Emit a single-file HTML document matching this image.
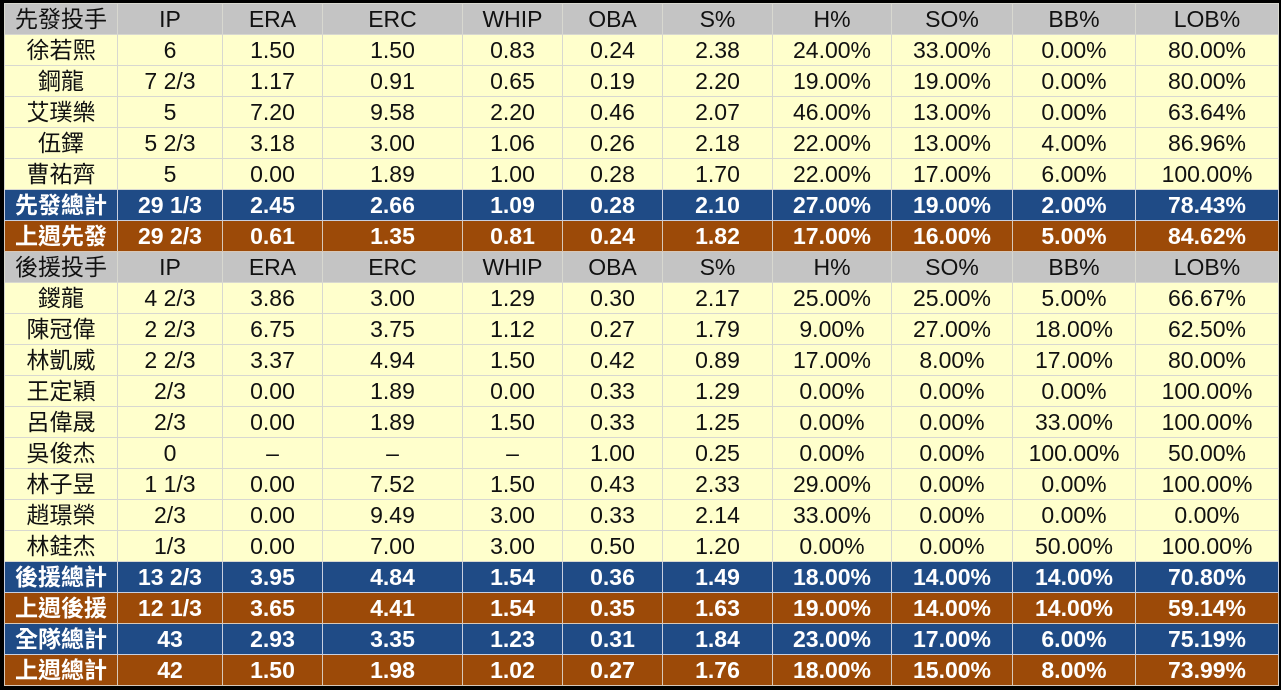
<!DOCTYPE html>
<html><head><meta charset="utf-8"><style>
html,body{margin:0;padding:0;background:#000;width:1281px;height:690px;overflow:hidden}
table{position:absolute;left:4px;top:3px;width:1274px;border-collapse:collapse;table-layout:fixed;font-family:"Liberation Sans","Noto Sans CJK TC",sans-serif;font-size:23px}
td{height:30px;padding:0;text-align:center;border:1px solid #d8d8d0;background:#ffffcc;color:#111;white-space:nowrap;overflow:hidden;line-height:30px}
tr.h td{background:#c4c4c4}
tr.b td{background:#1f4b86;color:#fff;font-weight:bold;border-color:#c8cfe0}
tr.o td{background:#9c4a08;color:#fff;font-weight:bold;border-color:#d8c8b8}
</style></head><body>
<table>
<colgroup><col style="width:113px"><col style="width:105px"><col style="width:100px"><col style="width:140px"><col style="width:100px"><col style="width:100px"><col style="width:110px"><col style="width:119px"><col style="width:121px"><col style="width:123px"><col style="width:143px"></colgroup>
<tr class="h"><td>先發投手</td><td>IP</td><td>ERA</td><td>ERC</td><td>WHIP</td><td>OBA</td><td>S%</td><td>H%</td><td>SO%</td><td>BB%</td><td>LOB%</td></tr>
<tr><td>徐若熙</td><td>6</td><td>1.50</td><td>1.50</td><td>0.83</td><td>0.24</td><td>2.38</td><td>24.00%</td><td>33.00%</td><td>0.00%</td><td>80.00%</td></tr>
<tr><td>鋼龍</td><td>7 2/3</td><td>1.17</td><td>0.91</td><td>0.65</td><td>0.19</td><td>2.20</td><td>19.00%</td><td>19.00%</td><td>0.00%</td><td>80.00%</td></tr>
<tr><td>艾璞樂</td><td>5</td><td>7.20</td><td>9.58</td><td>2.20</td><td>0.46</td><td>2.07</td><td>46.00%</td><td>13.00%</td><td>0.00%</td><td>63.64%</td></tr>
<tr><td>伍鐸</td><td>5 2/3</td><td>3.18</td><td>3.00</td><td>1.06</td><td>0.26</td><td>2.18</td><td>22.00%</td><td>13.00%</td><td>4.00%</td><td>86.96%</td></tr>
<tr><td>曹祐齊</td><td>5</td><td>0.00</td><td>1.89</td><td>1.00</td><td>0.28</td><td>1.70</td><td>22.00%</td><td>17.00%</td><td>6.00%</td><td>100.00%</td></tr>
<tr class="b"><td>先發總計</td><td>29 1/3</td><td>2.45</td><td>2.66</td><td>1.09</td><td>0.28</td><td>2.10</td><td>27.00%</td><td>19.00%</td><td>2.00%</td><td>78.43%</td></tr>
<tr class="o"><td>上週先發</td><td>29 2/3</td><td>0.61</td><td>1.35</td><td>0.81</td><td>0.24</td><td>1.82</td><td>17.00%</td><td>16.00%</td><td>5.00%</td><td>84.62%</td></tr>
<tr class="h"><td>後援投手</td><td>IP</td><td>ERA</td><td>ERC</td><td>WHIP</td><td>OBA</td><td>S%</td><td>H%</td><td>SO%</td><td>BB%</td><td>LOB%</td></tr>
<tr><td>鍐龍</td><td>4 2/3</td><td>3.86</td><td>3.00</td><td>1.29</td><td>0.30</td><td>2.17</td><td>25.00%</td><td>25.00%</td><td>5.00%</td><td>66.67%</td></tr>
<tr><td>陳冠偉</td><td>2 2/3</td><td>6.75</td><td>3.75</td><td>1.12</td><td>0.27</td><td>1.79</td><td>9.00%</td><td>27.00%</td><td>18.00%</td><td>62.50%</td></tr>
<tr><td>林凱威</td><td>2 2/3</td><td>3.37</td><td>4.94</td><td>1.50</td><td>0.42</td><td>0.89</td><td>17.00%</td><td>8.00%</td><td>17.00%</td><td>80.00%</td></tr>
<tr><td>王定穎</td><td>2/3</td><td>0.00</td><td>1.89</td><td>0.00</td><td>0.33</td><td>1.29</td><td>0.00%</td><td>0.00%</td><td>0.00%</td><td>100.00%</td></tr>
<tr><td>呂偉晟</td><td>2/3</td><td>0.00</td><td>1.89</td><td>1.50</td><td>0.33</td><td>1.25</td><td>0.00%</td><td>0.00%</td><td>33.00%</td><td>100.00%</td></tr>
<tr><td>吳俊杰</td><td>0</td><td>–</td><td>–</td><td>–</td><td>1.00</td><td>0.25</td><td>0.00%</td><td>0.00%</td><td>100.00%</td><td>50.00%</td></tr>
<tr><td>林子昱</td><td>1 1/3</td><td>0.00</td><td>7.52</td><td>1.50</td><td>0.43</td><td>2.33</td><td>29.00%</td><td>0.00%</td><td>0.00%</td><td>100.00%</td></tr>
<tr><td>趙璟榮</td><td>2/3</td><td>0.00</td><td>9.49</td><td>3.00</td><td>0.33</td><td>2.14</td><td>33.00%</td><td>0.00%</td><td>0.00%</td><td>0.00%</td></tr>
<tr><td>林銈杰</td><td>1/3</td><td>0.00</td><td>7.00</td><td>3.00</td><td>0.50</td><td>1.20</td><td>0.00%</td><td>0.00%</td><td>50.00%</td><td>100.00%</td></tr>
<tr class="b"><td>後援總計</td><td>13 2/3</td><td>3.95</td><td>4.84</td><td>1.54</td><td>0.36</td><td>1.49</td><td>18.00%</td><td>14.00%</td><td>14.00%</td><td>70.80%</td></tr>
<tr class="o"><td>上週後援</td><td>12 1/3</td><td>3.65</td><td>4.41</td><td>1.54</td><td>0.35</td><td>1.63</td><td>19.00%</td><td>14.00%</td><td>14.00%</td><td>59.14%</td></tr>
<tr class="b"><td>全隊總計</td><td>43</td><td>2.93</td><td>3.35</td><td>1.23</td><td>0.31</td><td>1.84</td><td>23.00%</td><td>17.00%</td><td>6.00%</td><td>75.19%</td></tr>
<tr class="o"><td>上週總計</td><td>42</td><td>1.50</td><td>1.98</td><td>1.02</td><td>0.27</td><td>1.76</td><td>18.00%</td><td>15.00%</td><td>8.00%</td><td>73.99%</td></tr>
</table>
</body></html>
